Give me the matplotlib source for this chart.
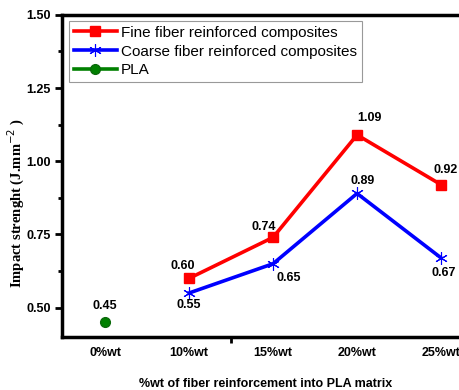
import matplotlib
matplotlib.use('Agg')
import matplotlib.pyplot as plt
from matplotlib.ticker import MultipleLocator

categories = ['0%wt', '10%wt', '15%wt', '20%wt', '25%wt']
fine = [0.60, 0.74, 1.09, 0.92]
coarse = [0.55, 0.65, 0.89, 0.67]
pla = [0.45]

plt.rcParams['font.family'] = ['Liberation Sans', 'DejaVu Sans']

fig = plt.figure(figsize=(4.6, 3.9), dpi=100)
# right edge of the frame runs past the figure border
ax = fig.add_axes([0.1348, 0.136, 0.887, 0.826])

xf = [1, 2, 3, 4]
ax.plot(xf, fine, color='red', lw=2.6, marker='s', ms=6.5, label='Fine fiber reinforced composites', zorder=3)
ax.plot(xf, coarse, color='blue', lw=2.6, marker=(6, 2, 0), ms=9, mew=0.8, label='Coarse fiber reinforced composites', zorder=3)
ax.plot([0], pla, color='green', lw=2.6, marker='o', ms=7, mfc='green', mec='#0a6a0a', label='PLA', zorder=3)

# value labels (x shift in category units, y shift in data units)
fine_off = [(-0.07, 0.042), (-0.11, 0.035), (0.15, 0.058), (0.05, 0.05)]
for x, v, (dx, dy) in zip(xf, fine, fine_off):
    ax.text(x + dx, v + dy, '%.2f' % v, ha='center', va='center', fontsize=9, fontweight='bold')
coarse_off = [(0.0, -0.042), (0.19, -0.048), (0.07, 0.042), (0.03, -0.05)]
for x, v, (dx, dy) in zip(xf, coarse, coarse_off):
    ax.text(x + dx, v + dy, '%.2f' % v, ha='center', va='center', fontsize=9, fontweight='bold')
ax.text(0, pla[0] + 0.055, '%.2f' % pla[0], ha='center', va='center', fontsize=9, fontweight='bold')

ax.set_xlim(-0.512, 4.345)
ax.set_ylim(0.4, 1.5)
ax.set_xticks(range(len(categories)))
ax.set_xticklabels(categories, fontsize=9, fontweight='bold')
ax.set_xticks([1.5, 4], minor=True)
ax.set_yticks([0.5, 0.75, 1.0, 1.25, 1.5])
ax.set_yticklabels(['0.50', '0.75', '1.00', '1.25', '1.50'], fontsize=9, fontweight='bold')
ax.yaxis.set_minor_locator(MultipleLocator(0.125))
ax.tick_params(axis='y', which='major', direction='out', length=5, width=2, pad=3)
ax.tick_params(axis='y', which='minor', direction='out', length=3, width=2)
ax.tick_params(axis='x', which='major', length=0, pad=7)
ax.tick_params(axis='x', which='minor', direction='out', length=4, width=2)
for s in ax.spines.values():
    s.set_linewidth(2.5)

ax.set_ylabel('Impact strenght (J.mm$^{-2}$ )', fontsize=10.5, fontweight='bold',
              family='Liberation Serif')
ax.yaxis.set_label_coords(-0.086, 0.416)
ax.set_xlabel('%wt of fiber reinforcement into PLA matrix', fontsize=9, fontweight='bold', labelpad=14)

leg = ax.legend(loc='upper left', bbox_to_anchor=(0.01, 0.99), fontsize=11, frameon=True,
                fancybox=False, edgecolor='gray', handlelength=2.8, borderpad=0.3,
                labelspacing=0.32, handletextpad=0.3, borderaxespad=0.2)
leg.get_frame().set_linewidth(0.8)

fig.savefig('out.png', dpi=100)
